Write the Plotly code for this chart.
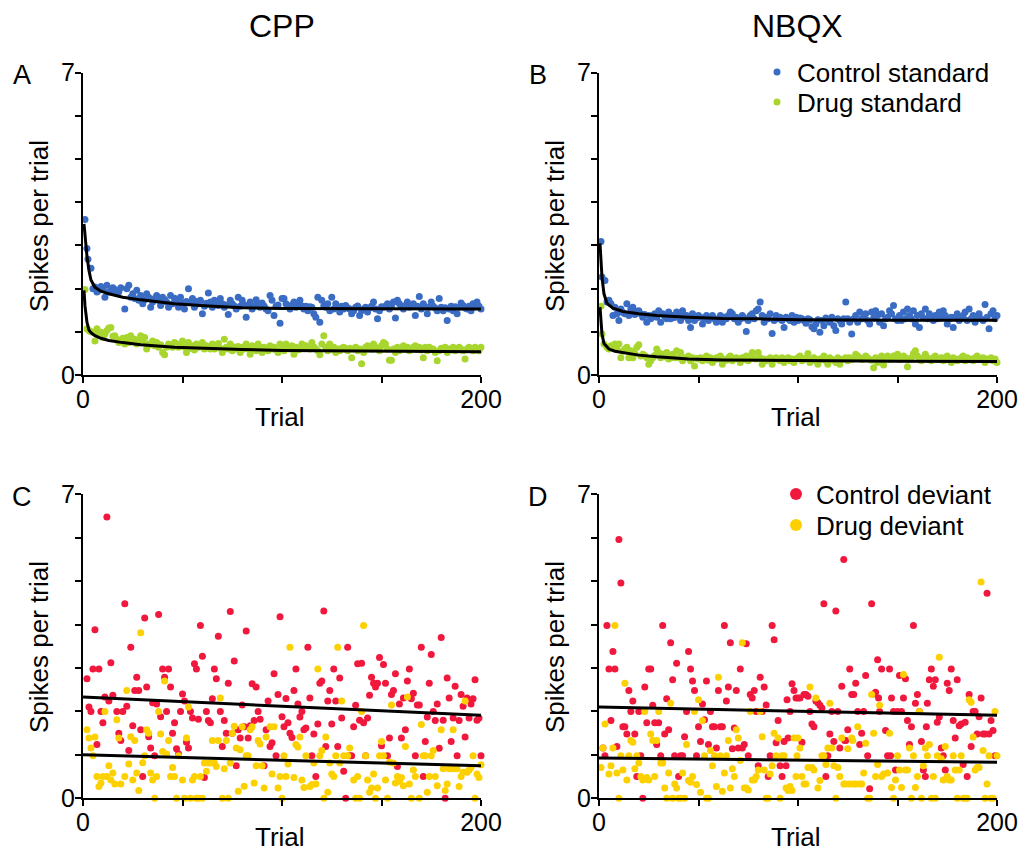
import plotly.graph_objects as go

# ---------------- data: (trial, spikes per trial) ----------------
ctrl_std_cpp = [(1,3.6),(2,2.93),(2.5,2.68),(4,2.47),(5,2.0),(6,2.04),(7,1.92),(8,1.96),(9,2.05),(10,2.0),(11,1.8),(12,2.08),(13,1.92),(14,1.95),(15,2.02),(16,1.98),(17,1.88),(18,1.93),(19,2.02),(21,1.53),(22,2.0),(23,2.08),(24,1.8),(25,1.88),(26,1.77),(27,1.96),(28,1.73),(29,1.84),(30,1.65),(31,1.74),(32,1.88),(33,1.8),(34,1.57),(35,1.69),(36,1.77),(37,1.84),(38,1.73),(39,1.61),(40,1.8),(41,1.75),(42,1.69),(43,1.57),(44,1.84),(45,1.65),(46,1.78),(47,1.73),(48,1.57),(49,1.8),(50,1.67),(51,1.53),(52,1.7),(53,2.0),(54,1.69),(55,1.77),(56,1.57),(57,1.7),(58,1.65),(59,1.73),(60,1.42),(61,1.59),(62,1.66),(63,1.9),(64,1.69),(65,1.57),(66,1.73),(67,1.66),(68,1.61),(69,1.77),(70,1.65),(71,1.57),(72,1.62),(73,1.4),(74,1.73),(75,1.65),(76,1.6),(77,1.53),(78,1.8),(79,1.59),(80,1.73),(81,1.62),(82,1.34),(83,1.61),(84,1.69),(85,1.53),(86,1.6),(87,1.74),(88,1.65),(89,1.57),(90,1.67),(91,1.6),(92,1.53),(93,1.49),(94,1.84),(95,1.73),(96,1.38),(97,1.59),(98,1.62),(99,1.2),(100,1.77),(101,1.77),(102,1.65),(103,1.6),(104,1.53),(105,1.62),(106,1.69),(107,1.57),(108,1.65),(109,1.73),(110,1.6),(111,1.53),(112,1.59),(113,1.49),(114,1.58),(115,1.57),(116,1.42),(117,1.34),(118,1.8),(119,1.22),(120,1.73),(121,1.6),(122,1.57),(123,1.65),(124,1.49),(125,1.8),(126,1.53),(127,1.65),(128,1.58),(129,1.46),(130,1.59),(131,1.53),(132,1.61),(133,1.56),(134,1.53),(135,1.42),(136,1.49),(137,1.57),(138,1.6),(139,1.38),(140,1.49),(141,1.53),(142,1.57),(143,1.46),(144,1.55),(145,1.59),(146,1.69),(147,1.53),(148,1.3),(149,1.49),(150,1.58),(151,1.57),(152,1.59),(153,1.65),(154,1.53),(155,1.6),(156,1.69),(157,1.32),(158,1.73),(159,1.65),(160,1.58),(161,1.53),(162,1.61),(163,1.69),(164,1.57),(165,1.6),(166,1.65),(167,1.38),(168,1.59),(169,1.82),(170,1.53),(171,1.65),(172,1.58),(173,1.42),(174,1.57),(175,1.69),(176,1.59),(177,1.55),(178,1.49),(179,1.77),(180,1.57),(181,1.49),(182,1.56),(183,1.26),(184,1.53),(185,1.59),(186,1.49),(187,1.58),(188,1.42),(189,1.57),(190,1.67),(191,1.61),(192,1.55),(193,1.53),(194,1.59),(195,1.49),(196,1.65),(197,1.6),(198,1.69),(199,1.59),(200,1.53)]

drug_std_cpp = [(1,1.98),(2,1.07),(3,1.03),(4,1.0),(5,0.99),(6,0.79),(7,1.07),(8,0.93),(9,0.99),(10,0.87),(11,0.95),(12,1.03),(13,1.09),(14,1.1),(15,0.9),(16,0.91),(17,0.83),(18,0.75),(19,0.79),(20,0.85),(21,0.72),(22,0.87),(23,0.75),(24,0.91),(25,0.8),(26,0.83),(27,0.72),(28,0.79),(29,0.91),(30,0.78),(31,0.87),(32,0.6),(33,0.72),(34,0.7),(35,0.79),(36,0.68),(37,0.75),(38,0.64),(39,0.7),(40,0.52),(41,0.47),(42,0.64),(43,0.72),(44,0.68),(45,0.64),(46,0.75),(47,0.72),(48,0.64),(49,0.7),(50,0.79),(51,0.65),(52,0.52),(53,0.75),(54,0.62),(55,0.68),(56,0.58),(57,0.72),(58,0.64),(59,0.66),(60,0.75),(61,0.6),(62,0.68),(63,0.64),(64,0.6),(65,0.72),(66,0.6),(67,0.68),(68,0.73),(69,0.62),(70,0.52),(71,0.83),(72,0.64),(73,0.6),(74,0.72),(75,0.56),(76,0.65),(77,0.6),(78,0.66),(79,0.52),(80,0.64),(81,0.6),(82,0.72),(83,0.6),(84,0.48),(85,0.68),(86,0.6),(87,0.56),(88,0.72),(89,0.64),(90,0.52),(91,0.64),(92,0.6),(93,0.56),(94,0.68),(95,0.6),(96,0.64),(97,0.58),(98,0.52),(99,0.72),(100,0.6),(101,0.56),(102,0.72),(103,0.62),(104,0.6),(105,0.68),(106,0.48),(107,0.64),(108,0.58),(109,0.6),(110,0.72),(111,0.64),(112,0.68),(113,0.62),(114,0.6),(115,0.75),(116,0.65),(117,0.6),(118,0.56),(119,0.47),(120,0.72),(121,0.91),(122,0.64),(123,0.56),(124,0.72),(125,0.6),(126,0.64),(127,0.52),(128,0.6),(129,0.56),(130,0.62),(131,0.64),(132,0.6),(133,0.56),(134,0.62),(135,0.4),(136,0.6),(137,0.64),(138,0.56),(139,0.6),(140,0.26),(141,0.52),(142,0.64),(143,0.68),(144,0.62),(145,0.6),(146,0.72),(147,0.64),(148,0.6),(149,0.56),(150,0.68),(151,0.75),(152,0.72),(153,0.6),(154,0.34),(155,0.34),(156,0.6),(157,0.52),(158,0.64),(159,0.56),(160,0.62),(161,0.68),(162,0.6),(163,0.64),(164,0.56),(165,0.6),(166,0.64),(167,0.68),(168,0.6),(169,0.64),(170,0.58),(171,0.4),(172,0.64),(173,0.56),(174,0.64),(175,0.6),(176,0.6),(177,0.52),(178,0.33),(179,0.56),(180,0.62),(181,0.6),(182,0.64),(183,0.52),(184,0.6),(185,0.58),(186,0.64),(187,0.56),(188,0.6),(189,0.64),(190,0.6),(191,0.56),(192,0.37),(193,0.6),(194,0.64),(195,0.6),(196,0.56),(197,0.64),(198,0.6),(199,0.56),(200,0.64)]

ctrl_std_nbqx = [(1,3.09),(1.5,2.27),(3,2.19),(4,1.69),(5,1.73),(6,1.65),(7,1.38),(8,1.57),(9,1.42),(10,1.26),(11,1.53),(12,1.45),(13,1.42),(14,1.65),(15,1.38),(16,1.53),(17,1.57),(18,1.4),(19,1.46),(20,1.49),(21,1.42),(22,1.34),(23,1.4),(24,1.22),(25,1.38),(26,1.3),(27,1.38),(28,1.42),(29,1.34),(30,1.49),(31,1.22),(32,1.42),(33,1.36),(34,1.3),(35,1.46),(36,1.3),(37,1.38),(38,1.33),(39,1.46),(40,1.42),(41,1.26),(42,1.49),(43,1.35),(44,1.38),(45,1.26),(46,1.1),(47,1.42),(48,1.26),(49,1.32),(50,1.38),(51,1.34),(52,1.18),(53,1.3),(54,1.38),(55,1.26),(56,1.34),(57,1.38),(58,1.3),(59,1.22),(60,1.3),(61,1.38),(62,1.22),(63,1.34),(64,1.3),(65,1.38),(66,1.46),(67,1.42),(68,1.3),(69,1.34),(70,1.22),(71,1.3),(72,1.38),(73,1.32),(74,1.01),(75,1.26),(76,1.38),(77,1.42),(78,1.3),(79,1.49),(80,1.53),(81,1.69),(82,1.38),(83,1.22),(84,1.34),(85,1.3),(86,1.42),(87,0.96),(88,1.26),(89,1.38),(90,1.3),(91,1.34),(92,1.26),(93,1.1),(94,1.34),(95,1.3),(96,1.26),(97,1.38),(98,1.22),(99,1.34),(100,1.26),(101,1.32),(102,1.3),(103,1.26),(104,1.2),(105,1.3),(106,1.28),(107,1.12),(108,1.07),(109,1.18),(110,1.28),(111,0.99),(112,1.26),(113,1.14),(114,1.32),(115,1.28),(116,1.22),(117,1.34),(118,1.14),(119,1.03),(120,1.3),(121,1.26),(122,1.18),(123,1.3),(124,1.69),(125,1.3),(126,1.22),(127,0.95),(128,1.3),(129,1.38),(130,1.22),(131,1.46),(132,1.3),(133,1.34),(134,1.42),(135,1.26),(136,1.18),(137,1.46),(138,1.32),(139,1.49),(140,1.38),(141,1.22),(142,1.42),(143,1.14),(144,1.3),(145,1.34),(146,1.49),(147,1.42),(148,1.61),(149,1.3),(150,1.26),(151,1.38),(152,1.26),(153,1.46),(154,1.3),(155,1.53),(156,1.38),(157,1.3),(158,1.49),(159,1.18),(160,1.38),(161,1.1),(162,1.42),(163,1.32),(164,1.53),(165,1.3),(166,1.42),(167,1.3),(168,1.26),(169,1.38),(170,1.3),(171,1.46),(172,1.32),(173,1.49),(174,1.38),(175,1.18),(176,1.3),(177,1.34),(178,1.1),(179,1.34),(180,1.42),(181,1.26),(182,1.32),(183,1.38),(184,1.46),(185,1.26),(186,1.53),(187,1.3),(188,1.38),(189,1.22),(190,1.34),(191,1.42),(192,1.3),(193,1.26),(194,1.63),(195,1.34),(196,1.07),(197,1.42),(198,1.49),(199,1.3),(200,1.38)]

drug_std_nbqx = [(1,1.59),(1.5,0.95),(2.5,0.72),(4,0.64),(5,0.6),(6,0.68),(7,0.64),(8,0.72),(9,0.6),(10,0.72),(11,0.4),(12,0.55),(13,0.6),(14,0.64),(15,0.4),(16,0.56),(17,0.4),(18,0.5),(19,0.64),(20,0.7),(21,0.44),(22,0.48),(23,0.45),(24,0.4),(25,0.25),(26,0.33),(27,0.4),(28,0.45),(29,0.6),(30,0.52),(31,0.4),(32,0.48),(33,0.42),(34,0.52),(35,0.37),(36,0.4),(37,0.48),(38,0.4),(39,0.56),(40,0.4),(41,0.52),(42,0.33),(43,0.4),(44,0.4),(45,0.44),(46,0.33),(47,0.4),(48,0.21),(49,0.38),(50,0.37),(51,0.4),(52,0.33),(53,0.38),(54,0.44),(55,0.34),(56,0.4),(57,0.29),(58,0.36),(59,0.4),(60,0.37),(61,0.44),(62,0.25),(63,0.36),(64,0.34),(65,0.4),(66,0.44),(67,0.33),(68,0.38),(69,0.4),(70,0.37),(71,0.29),(72,0.4),(73,0.36),(74,0.44),(75,0.33),(76,0.4),(77,0.52),(78,0.38),(79,0.37),(80,0.52),(81,0.4),(82,0.25),(83,0.37),(84,0.33),(85,0.36),(86,0.4),(87,0.25),(88,0.37),(89,0.4),(90,0.36),(91,0.33),(92,0.4),(93,0.29),(94,0.36),(95,0.4),(96,0.33),(97,0.37),(98,0.29),(99,0.37),(100,0.4),(101,0.44),(102,0.33),(103,0.36),(104,0.4),(105,0.5),(106,0.29),(107,0.36),(108,0.4),(109,0.33),(110,0.25),(111,0.37),(112,0.36),(113,0.44),(114,0.33),(115,0.25),(116,0.4),(117,0.36),(118,0.34),(119,0.29),(120,0.4),(121,0.25),(122,0.36),(123,0.37),(124,0.4),(125,0.33),(126,0.4),(127,0.36),(128,0.37),(129,0.48),(130,0.44),(131,0.4),(132,0.36),(133,0.37),(134,0.44),(135,0.4),(136,0.36),(137,0.34),(138,0.17),(139,0.4),(140,0.29),(141,0.36),(142,0.44),(143,0.23),(144,0.4),(145,0.44),(146,0.36),(147,0.37),(148,0.44),(149,0.4),(150,0.48),(151,0.36),(152,0.37),(153,0.44),(154,0.4),(155,0.19),(156,0.36),(157,0.4),(158,0.5),(159,0.56),(160,0.44),(161,0.36),(162,0.33),(163,0.4),(164,0.48),(165,0.4),(166,0.36),(167,0.33),(168,0.4),(169,0.44),(170,0.37),(171,0.36),(172,0.4),(173,0.33),(174,0.4),(175,0.44),(176,0.36),(177,0.29),(178,0.4),(179,0.37),(180,0.33),(181,0.36),(182,0.4),(183,0.44),(184,0.33),(185,0.4),(186,0.36),(187,0.37),(188,0.33),(189,0.4),(190,0.44),(191,0.36),(192,0.37),(193,0.4),(194,0.29),(195,0.37),(196,0.36),(197,0.4),(198,0.33),(199,0.37),(200,0.29)]

ctrl_dev_cpp = [(2,2.75),(3,2.1),(4,2.0),(5,2.98),(6,3.88),(7,1.24),(8,2.98),(9,2.0),(10,1.74),(11,2.33),(12,6.48),(13,2.24),(14,3.12),(15,2.37),(17,2.0),(18,1.5),(19,1.33),(20,2.0),(21,4.48),(22,2.12),(23,1.1),(24,3.48),(25,1.67),(26,2.48),(27,2.79),(28,2.48),(29,1.58),(30,0.5),(31,4.15),(32,2.56),(33,1.42),(34,1.16),(35,2.2),(36,0.98),(37,2.17),(38,4.23),(39,1.88),(40,2.98),(41,2.79),(42,2.0),(43,2.98),(44,2.56),(45,1.5),(46,1.74),(47,1.14),(48,1.02),(49,2.0),(50,2.4),(51,2.24),(52,1.29),(53,1.16),(54,2.0),(55,1.85),(56,3.1),(57,2.98),(58,1.82),(59,3.98),(60,3.27),(61,0.48),(62,2.0),(63,1.79),(64,1.74),(65,2.29),(66,2.98),(67,2.75),(68,3.73),(69,2.0),(70,1.19),(71,1.79),(72,1.5),(73,2.65),(74,4.3),(75,1.5),(76,3.16),(77,0.75),(78,1.58),(79,1.39),(80,2.15),(81,1.65),(82,3.85),(83,1.39),(84,1.67),(85,2.64),(86,1.79),(87,2.56),(88,2.0),(89,1.82),(91,0.75),(92,1.58),(93,2.24),(94,1.19),(95,1.28),(96,2.87),(97,0.98),(98,2.39),(99,4.18),(100,1.88),(101,1.65),(102,2.3),(103,1.74),(104,1.5),(105,1.4),(106,2.48),(107,2.98),(108,2.17),(109,1.87),(110,2.0),(111,1.58),(112,1.62),(113,3.48),(114,2.31),(115,0.98),(116,1.48),(117,0.5),(118,1.71),(119,2.65),(120,2.7),(121,4.31),(122,1.19),(123,2.24),(124,2.48),(125,1.71),(126,2.98),(127,2.24),(128,1.19),(129,2.77),(130,1.85),(131,0.62),(132,0.0),(133,3.48),(134,0.98),(135,0.98),(136,1.65),(137,2.14),(138,3.1),(139,1.8),(140,3.11),(141,1.74),(142,0.98),(143,1.85),(144,2.37),(145,2.79),(146,2.65),(147,2.56),(148,2.65),(149,3.24),(150,1.21),(151,3.08),(152,2.65),(153,0.98),(154,1.39),(155,2.39),(156,2.48),(157,2.87),(158,0.73),(159,2.17),(160,1.39),(161,2.31),(162,1.58),(163,2.7),(164,2.98),(165,2.29),(166,2.42),(167,0.98),(168,2.15),(169,2.15),(170,3.48),(171,0.5),(172,1.31),(173,1.87),(174,2.65),(175,3.31),(176,2.0),(177,1.79),(178,2.17),(179,1.15),(180,3.7),(181,1.8),(182,0.0),(183,2.77),(184,2.31),(185,1.31),(186,1.85),(187,2.58),(188,0.98),(189,1.79),(190,2.39),(191,2.12),(192,1.41),(193,2.31),(194,1.85),(195,2.17),(196,2.29),(197,2.73),(198,1.8),(199,1.85),(200,0.98)]

drug_dev_cpp = [(2,1.58),(3,1.39),(4,1.16),(5,0.98),(6,1.41),(7,0.5),(8,0.27),(9,0.35),(10,0.5),(11,2.0),(12,0.5),(13,0.75),(14,0.42),(15,0.58),(16,0.33),(17,1.81),(18,1.39),(19,0.33),(21,0.5),(22,2.48),(23,0.79),(24,1.42),(25,0.42),(26,1.33),(27,0.58),(28,0.18),(29,3.81),(30,0.82),(31,0.98),(32,1.58),(33,1.5),(34,0.58),(35,0.42),(36,0.0),(37,0.5),(38,2.0),(39,1.48),(40,1.08),(41,2.7),(42,1.02),(43,1.33),(44,0.5),(45,0.71),(46,0.5),(47,0.0),(48,0.98),(50,0.42),(51,0.0),(52,1.39),(53,2.1),(54,0.0),(55,0.42),(56,0.5),(57,0.0),(58,0.0),(59,0.5),(60,0.0),(61,0.81),(62,0.62),(63,0.81),(64,0.81),(65,1.33),(66,0.81),(67,0.73),(68,1.33),(69,2.31),(70,0.0),(71,0.68),(72,1.33),(73,0.0),(74,0.81),(75,1.5),(76,1.66),(77,1.16),(78,0.16),(79,1.12),(80,1.65),(81,0.28),(82,0.98),(83,0.98),(84,1.58),(85,1.65),(86,0.35),(87,0.75),(88,1.33),(89,1.25),(90,0.75),(91,0.24),(92,1.41),(94,1.65),(95,0.56),(96,1.65),(98,0.24),(99,0.5),(100,0.0),(101,0.98),(102,0.5),(103,0.79),(104,3.48),(106,0.48),(107,1.24),(108,1.18),(109,1.41),(110,0.42),(111,0.25),(112,0.98),(114,0.27),(115,0.32),(116,0.81),(117,0.33),(118,2.98),(119,0.98),(120,1.1),(121,0.0),(122,1.41),(123,0.14),(124,0.81),(125,0.56),(126,0.5),(127,0.98),(128,3.48),(129,0.81),(130,2.24),(131,0.98),(133,0.98),(134,1.16),(136,0.42),(137,0.0),(138,0.5),(139,0.0),(140,2.0),(141,3.98),(142,0.98),(143,0.42),(144,0.14),(145,0.24),(146,0.56),(147,0.0),(148,0.24),(149,0.98),(150,1.31),(151,0.98),(152,0.42),(153,0.0),(154,0.83),(155,2.15),(156,0.81),(157,0.35),(158,0.5),(159,0.39),(160,0.48),(161,0.29),(162,1.19),(163,2.33),(164,0.33),(165,0.0),(166,0.65),(167,0.5),(169,0.0),(170,1.7),(171,0.98),(172,0.98),(173,0.14),(174,0.5),(175,0.98),(176,1.1),(177,0.5),(178,0.29),(180,1.58),(181,0.68),(182,0.18),(183,0.33),(184,0.68),(185,0.68),(186,1.58),(187,0.68),(188,0.68),(189,0.27),(190,0.5),(191,0.6),(192,2.24),(193,0.6),(194,0.65),(195,0.71),(196,0.98),(197,0.0),(198,0.56),(199,0.48),(200,0.77)]

ctrl_dev_nbqx = [(2,1.16),(3,0.98),(4,3.98),(5,2.98),(6,1.79),(7,3.38),(8,2.98),(9,1.19),(10,5.96),(11,4.96),(12,1.65),(13,1.65),(14,1.48),(15,2.48),(16,2.0),(17,2.24),(18,1.48),(19,0.5),(20,2.0),(21,0.98),(22,0.0),(23,2.56),(24,1.74),(25,2.98),(26,2.98),(27,2.14),(28,1.74),(29,1.24),(30,1.74),(31,0.98),(32,3.98),(33,1.48),(34,2.29),(35,1.58),(36,3.58),(37,2.73),(38,0.98),(39,3.11),(40,0.5),(41,0.98),(42,0.98),(43,1.42),(44,2.0),(45,3.38),(46,2.98),(47,2.7),(48,2.48),(49,0.98),(50,1.65),(51,1.31),(52,2.17),(53,1.81),(54,2.7),(55,1.24),(56,2.0),(57,1.65),(58,1.65),(59,1.16),(60,2.48),(61,1.65),(62,1.65),(63,3.98),(64,2.24),(65,2.56),(66,3.58),(67,1.14),(68,1.62),(69,2.48),(70,1.16),(71,2.98),(72,1.16),(73,1.24),(74,3.56),(75,0.98),(76,2.39),(77,2.31),(78,2.48),(79,2.0),(80,0.75),(81,2.79),(82,2.0),(83,2.56),(84,2.15),(85,0.5),(86,0.98),(87,3.98),(88,3.65),(89,1.28),(90,1.79),(91,0.75),(92,0.5),(93,1.31),(94,0.75),(94.5,2.27),(95,1.39),(96,2.0),(97,2.64),(98,2.48),(99,2.31),(100,2.31),(101,2.31),(102,1.29),(103,2.39),(104,2.39),(105,2.35),(106,2.0),(107,1.71),(108,1.65),(109,2.24),(110,2.2),(111,2.14),(112,2.08),(113,4.48),(114,0.5),(115,0.98),(116,1.48),(117,2.0),(118,1.31),(119,4.31),(120,2.0),(121,1.16),(122,2.58),(123,5.5),(123.5,1.33),(124,1.33),(125,1.58),(126,2.98),(127,2.39),(128,2.39),(129,2.65),(130,2.0),(131,1.24),(132,1.5),(133,2.0),(134,2.83),(135,0.98),(136,0.22),(137,4.48),(138,2.4),(139,2.44),(140,3.19),(140.5,2.31),(141,2.0),(142,2.98),(144,1.56),(145,0.98),(146,2.98),(146.5,0.98),(147,2.31),(148,2.0),(149,0.65),(150,2.0),(151,2.83),(152,2.0),(153,2.31),(154,2.75),(155,1.79),(156,1.24),(157,1.65),(158,3.98),(159,2.19),(160,2.39),(161,2.0),(162,1.31),(163,0.65),(164,0.5),(164.5,1.65),(165,2.19),(166,2.73),(167,2.98),(168,2.58),(169,2.73),(170,1.75),(171,1.87),(172,1.16),(173,0.98),(174,0.65),(175,2.65),(176,2.48),(177,2.98),(178,1.79),(179,1.39),(180,2.73),(181,1.67),(182,1.71),(183,0.78),(184,1.75),(185,0.5),(186,2.39),(187,1.19),(188,2.0),(189,2.0),(190,1.48),(191,1.88),(192,2.31),(193,1.48),(194,1.48),(195,4.72),(196,1.48),(197,1.79),(198,1.56),(199,0.98)]

drug_dev_nbqx = [(1,0.71),(2,1.16),(3,1.71),(5,0.56),(6,0.75),(7,1.16),(8,3.98),(9,0.58),(10,0.0),(11,0.98),(12,0.65),(13,2.65),(14,0.42),(15,0.98),(16,1.33),(17,1.29),(18,0.68),(19,0.98),(20,0.81),(21,0.5),(22,0.42),(23,2.0),(24,0.48),(25,0.42),(26,1.48),(27,1.33),(28,0.5),(29,1.33),(30,2.0),(31,0.81),(32,0.81),(33,0.24),(34,0.0),(35,0.58),(36,2.19),(37,0.0),(38,0.33),(39,0.24),(40,0.0),(41,0.0),(42,0.58),(43,0.0),(44,1.24),(45,0.41),(46,0.37),(47,0.5),(48,2.0),(49,0.32),(50,2.27),(51,0.14),(52,1.79),(53,0.98),(54,0.0),(55,0.0),(56,1.1),(57,0.75),(58,0.98),(59,0.27),(60,2.79),(61,0.98),(62,0.16),(63,0.58),(64,0.98),(65,1.33),(66,0.24),(67,0.68),(68,0.5),(69,1.58),(70,1.39),(71,0.87),(72,3.58),(73,0.24),(74,0.24),(75,0.19),(76,2.0),(77,0.42),(78,0.42),(79,0.5),(80,0.65),(81,2.0),(82,1.42),(83,0.65),(84,0.0),(85,0.0),(86,0.56),(87,0.75),(88,1.5),(89,0.98),(90,1.39),(91,0.0),(92,0.98),(93,0.98),(94,0.24),(95,0.18),(96,0.27),(97,0.18),(98,1.39),(99,0.5),(99.5,0.98),(100,1.39),(101,1.16),(102,0.5),(103,0.33),(104,0.33),(105,0.71),(106,2.56),(107,0.71),(108,0.65),(109,2.31),(110,0.24),(111,0.41),(112,0.98),(113,0.98),(114,0.78),(115,1.16),(116,2.19),(117,1.16),(118,0.75),(119,0.0),(120,0.71),(121,0.5),(122,1.39),(123,0.33),(124,0.33),(125,1.14),(126,0.33),(127,1.39),(127.5,1.33),(128,0.33),(129,0.33),(130,1.65),(131,0.33),(132,0.33),(133,0.58),(134,1.27),(135,0.0),(136,0.0),(137,2.39),(138,1.5),(139,0.5),(140,0.78),(141,2.14),(142,0.5),(143,0.56),(145,0.58),(146,1.5),(147,0.25),(148,0.0),(149,0.42),(150,0.98),(151,0.65),(152,0.25),(153,2.85),(154,0.65),(155,0.65),(156,1.16),(157,0.0),(158,0.98),(159,0.25),(160,0.5),(161,2.0),(162,0.0),(163,0.75),(164,1.16),(165,0.98),(166,1.24),(167,0.0),(168,0.5),(169,0.0),(170,0.98),(171,3.25),(172,0.91),(173,0.42),(174,1.19),(175,0.5),(176,0.42),(177,0.42),(178,0.98),(179,0.65),(180,0.0),(181,0.65),(182,0.98),(183,0.0),(184,0.0),(185,0.0),(186,2.27),(187,2.21),(188,1.41),(189,0.65),(190,0.71),(191,0.71),(192,4.98),(193,1.1),(194,0.0),(195,0.33),(196,0.98),(197,0.0),(198,0.0),(199,2.0),(200,0.98)]

# fitted curves: (trial, spikes per trial)
fit_ctrl_std_cpp = [(0.5,3.5),(1,3.2),(2,2.75),(3,2.42),(4,2.2),(6,2.03),(9,1.94),(13,1.88),(20,1.8),(29,1.74),(46,1.65),(63,1.6),(80,1.56),(100,1.54),(150,1.53),(200,1.53)]
fit_drug_std_cpp = [(0.5,1.96),(1,1.6),(2,1.22),(3,1.04),(4,0.98),(6,0.91),(9,0.85),(13,0.8),(20,0.75),(29,0.7),(46,0.64),(63,0.61),(80,0.59),(100,0.57),(150,0.55),(200,0.54)]
fit_ctrl_std_nbqx = [(0.5,3.05),(1,2.6),(1.5,2.27),(2.5,1.88),(4,1.66),(7,1.55),(12,1.47),(20,1.42),(29,1.38),(45,1.34),(62,1.31),(80,1.3),(100,1.28),(150,1.27),(200,1.27)]
fit_drug_std_nbqx = [(0.5,1.57),(1,1.2),(1.5,0.95),(2.5,0.73),(5,0.6),(8,0.55),(12,0.52),(20,0.46),(29,0.42),(45,0.37),(62,0.35),(100,0.33),(150,0.32),(200,0.31)]
fit_ctrl_dev_cpp = [(0,2.33),(200,1.91)]
fit_drug_dev_cpp = [(0,1.0),(200,0.75)]
fit_ctrl_dev_nbqx = [(0,2.1),(200,1.91)]
fit_drug_dev_nbqx = [(0,0.93),(200,0.83)]

col_labels = ["CPP", "NBQX"]
panel_letters = ["A", "B", "C", "D"]
series_names = ["Control standard", "Drug standard", "Control deviant", "Drug deviant"]
x_title = "Trial"
y_title = "Spikes per trial"
x_tick_vals = [0, 50, 100, 150, 200]
x_tick_text = ["0", "", "", "", "200"]
y_tick_vals = [0, 1, 2, 3, 4, 5, 6, 7]
y_tick_text = ["0", "", "", "", "", "", "", "7"]

# ---------------- styling ----------------
BLUE = "#3b6cc4"
GREEN = "#a8d62e"
RED = "#f0183c"
YELLOW = "#fdd000"
FONT = "Liberation Sans, Arial, sans-serif"
W, H = 1020, 854

def fx_(px):
    return px / W

def fy_(py):
    return 1 - py / H

def xy(pairs):
    return [p[0] for p in pairs], [p[1] for p in pairs]

fig = go.Figure()

panels = [
    ("x", "y", ctrl_std_cpp, drug_std_cpp, fit_ctrl_std_cpp, fit_drug_std_cpp, BLUE, GREEN, 0, ("legend", "legend2")),
    ("x2", "y2", ctrl_std_nbqx, drug_std_nbqx, fit_ctrl_std_nbqx, fit_drug_std_nbqx, BLUE, GREEN, 0, ("legend", "legend2")),
    ("x3", "y3", ctrl_dev_cpp, drug_dev_cpp, fit_ctrl_dev_cpp, fit_drug_dev_cpp, RED, YELLOW, 2, ("legend3", "legend4")),
    ("x4", "y4", ctrl_dev_nbqx, drug_dev_nbqx, fit_ctrl_dev_nbqx, fit_drug_dev_nbqx, RED, YELLOW, 2, ("legend3", "legend4")),
]

for i, (xa, ya, ctrl, drug, fc, fd, cc, cd, ni, lgs) in enumerate(panels):
    show = i in (1, 3)
    for k, (pairs, col, name) in enumerate(((ctrl, cc, series_names[ni]), (drug, cd, series_names[ni + 1]))):
        px_, py_ = xy(pairs)
        fig.add_trace(go.Scatter(x=px_, y=py_, mode="markers", xaxis=xa, yaxis=ya,
                                 marker=dict(size=7, color=col, line=dict(width=0)),
                                 name=name, showlegend=show, legend=lgs[k], cliponaxis=False))
    for pairs in (fc, fd):
        lx, ly = xy(pairs)
        fig.add_trace(go.Scatter(x=lx, y=ly, mode="lines", xaxis=xa, yaxis=ya,
                                 line=dict(color="black", width=3), showlegend=False,
                                 cliponaxis=False, hoverinfo="skip"))

xdom = [[fx_(83), fx_(481)], [fx_(599), fx_(997)]]
ydom = [[fy_(375), fy_(72.7)], [fy_(798.3), fy_(494.3)]]

common = dict(showline=True, linecolor="black", linewidth=2, ticks="outside", ticklen=6,
              tickwidth=2, tickcolor="black", showgrid=False, zeroline=False, automargin=False,
              ticklabeloverflow="allow",
              tickfont=dict(family=FONT, size=25, color="black"))

layout_axes = {}
for i in range(4):
    r, c = divmod(i, 2)
    sx = "" if i == 0 else str(i + 1)
    layout_axes["xaxis" + sx] = dict(common, domain=xdom[c], range=[0, 200], anchor="y" + sx,
                                     tickvals=x_tick_vals, ticktext=x_tick_text, ticklabelstandoff=-5)
    layout_axes["yaxis" + sx] = dict(common, domain=ydom[r], range=[0, 7], anchor="x" + sx,
                                     tickvals=y_tick_vals, ticktext=y_tick_text, ticklabelstandoff=-5)

fig.update_layout(**layout_axes)

def ann(text, x, y, size, angle=0):
    return dict(text=text, x=fx_(x), y=fy_(y), xref="paper", yref="paper", showarrow=False,
                font=dict(family=FONT, size=size, color="black"), xanchor="center",
                yanchor="middle", textangle=angle)

annotations = [ann(col_labels[0], 282, 26, 32), ann(col_labels[1], 797, 26, 32)]
letter_pos = [(22, 75), (538, 75), (22, 497), (538, 497)]
for L, (lx, ly) in zip(panel_letters, letter_pos):
    annotations.append(ann(L, lx, ly, 27))
for cx, cy in [(280, 417), (796, 417), (280, 837), (796, 837)]:
    annotations.append(ann(x_title, cx, cy, 26))
for cx, cy in [(39, 226), (555, 226), (39, 647), (555, 647)]:
    annotations.append(ann(y_title, cx, cy, 26, -90))

def leg(x, y, constant=False):
    d = dict(x=fx_(x), y=fy_(y), xanchor="left", yanchor="middle", bgcolor="rgba(0,0,0,0)",
             font=dict(family=FONT, size=26, color="black"), borderwidth=0)
    if constant:
        d["itemsizing"] = "constant"
    return d

fig.update_layout(
    width=W, height=H,
    margin=dict(l=0, r=0, t=0, b=0, autoexpand=False),
    paper_bgcolor="white", plot_bgcolor="white",
    font=dict(family=FONT, color="black"),
    annotations=annotations,
    legend=leg(757, 72),
    legend2=leg(757, 102),
    legend3=leg(776, 494, True),
    legend4=leg(776, 525, True),
    showlegend=True,
)

# remove the browser's default 8px page margin so the figure fills the window exactly
fig.write_html("out.html", config={"displayModeBar": False},
               post_script="document.body.style.margin='0px';")
